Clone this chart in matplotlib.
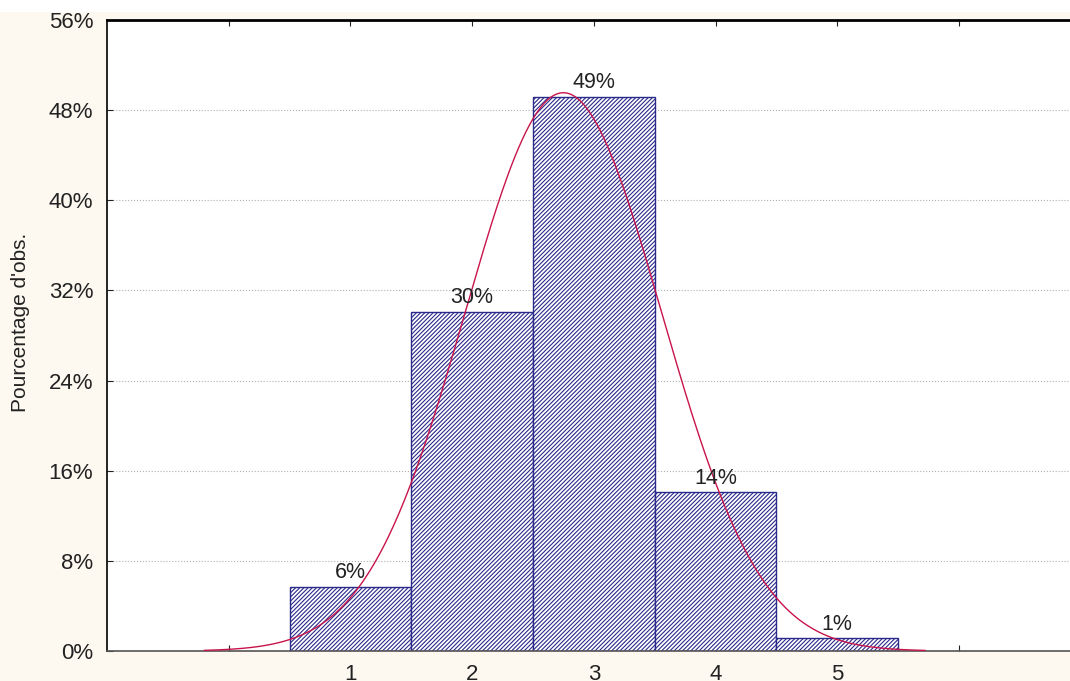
import numpy as np
import matplotlib
matplotlib.use("Agg")
import matplotlib.pyplot as plt
from matplotlib.patches import Rectangle
from matplotlib.ticker import MultipleLocator, FuncFormatter

# classes et pourcentages observés
classes = [1, 2, 3, 4, 5]
pourcentages = [5.7, 30.1, 49.2, 14.1, 1.15]
etiquettes = ["6%", "30%", "49%", "14%", "1%"]

plt.rcParams['font.family'] = ['Liberation Sans', 'DejaVu Sans']
plt.rcParams['hatch.linewidth'] = 0.8
plt.rcParams['hatch.color'] = '#2a2a8a'

fond = '#fdf9f0'
fig = plt.figure(figsize=(10.70, 6.81), dpi=100, facecolor=fond)
ax = fig.add_axes([0.1, 0.044, 0.910, 0.9266])
ax.set_facecolor('white')

ax.bar(classes, pourcentages, width=1.0, color='white', edgecolor='#2a2a8a',
       hatch='////////', linewidth=1.0, zorder=2)

for x, y, t in zip(classes, pourcentages, etiquettes):
    ax.text(x, y + 0.3, t, ha='center', va='bottom', fontsize=15.5, color='#222222', zorder=4)

# courbe normale ajustée (moyenne et écart-type des données)
p = np.array(pourcentages)
c = np.array(classes)
moy = (c * p).sum() / p.sum()
sd = np.sqrt((p * (c - moy) ** 2).sum() / p.sum())
xs = np.linspace(-0.2, 5.72, 400)
ys = p.sum() / (sd * np.sqrt(2 * np.pi)) * np.exp(-0.5 * ((xs - moy) / sd) ** 2)
ax.plot(xs, ys, color='#c8144b', linewidth=1.0, zorder=3)

ax.set_xlim(-1, 7)
ax.set_ylim(0, 56)
ax.yaxis.set_major_locator(MultipleLocator(8))
ax.yaxis.set_major_formatter(FuncFormatter(lambda v, pos: f"{int(v)}%"))
ax.set_xticks(range(0, 7))
ax.set_xticklabels(['', '1', '2', '3', '4', '5', ''])
ax.tick_params(axis='both', direction='in', labelsize=16, colors='#222222',
               top=True, length=4)
ax.tick_params(axis='y', pad=10)
ax.tick_params(axis='x', pad=9)
ax.grid(axis='y', linestyle=':', color='#b0b0b0', linewidth=0.8, zorder=0)

ax.spines['top'].set_linewidth(2.0)
ax.spines['left'].set_linewidth(1.2)
ax.spines['bottom'].set_linewidth(1.2)
ax.spines['bottom'].set_color('#555555')

fig.text(21 / 1070, 1 - 322 / 681, "Pourcentage d'obs.", rotation=90,
         ha='center', va='center', fontsize=15, color='#222222')

# bande blanche en haut (image recadrée)
fig.add_artist(Rectangle((0, 1 - 12 / 681), 1, 12 / 681, transform=fig.transFigure,
                         facecolor='white', edgecolor='none', zorder=10))

fig.savefig('out.png', dpi=100, facecolor=fond)
